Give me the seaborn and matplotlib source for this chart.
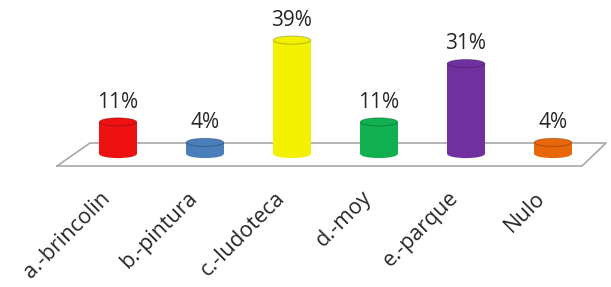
import matplotlib
matplotlib.use("Agg")
import matplotlib.pyplot as plt
import matplotlib.transforms as mtransforms
import seaborn as sns
import pandas as pd
from matplotlib.patches import Ellipse

categories = ["a.-brincolin", "b.-pintura", "c.-ludoteca", "d.-moy", "e.-parque", "Nulo"]
values = [11, 4, 39, 11, 31, 4]
labels = ["11%", "4%", "39%", "11%", "31%", "4%"]
colors = ["#ee1111", "#4a7ebb", "#f2f200", "#10b050", "#7030a0", "#e8670a"]

sns.set_theme(style="white")
plt.rcParams['font.family'] = ['Open Sans', 'DejaVu Sans']

W, H = 611, 287
fig = plt.figure(figsize=(W / 100, H / 100), dpi=100)
base_px = 154
top_px = 154 - 45 * 2.92
ax = fig.add_axes([74.5 / W, 1 - base_px / H, 522 / W, (base_px - top_px) / H])

df = pd.DataFrame({"cat": categories, "val": values})
bw = 0.43
sns.barplot(data=df, x="cat", y="val", hue="cat", palette=colors, legend=False,
            width=bw, ax=ax, saturation=1, edgecolor="none", zorder=3)
ax.set_xlim(-0.5, 5.5)
ax.set_ylim(0, 45)

# floor plane (decoration) in axes coordinates
def ax_pt(px, py):
    return ((px - 74.5) / 522, (base_px - py) / (base_px - top_px))

floor = [ax_pt(57, 166), ax_pt(90, 143), ax_pt(606, 143), ax_pt(582, 166), ax_pt(57, 166)]
ax.plot([p[0] for p in floor], [p[1] for p in floor], transform=ax.transAxes,
        color="#a8a8a8", lw=1.2, clip_on=False, zorder=1)

# cylinder caps
eh = 2.8
for i, (v, c) in enumerate(zip(values, colors)):
    ax.add_patch(Ellipse((i, 0), bw, eh, facecolor=c, edgecolor="none", zorder=3, clip_on=False))
    ax.add_patch(Ellipse((i, v), bw, eh, facecolor=c, edgecolor=(0, 0, 0, 0.22), lw=0.8, zorder=4, clip_on=False))
    ax.text(i, v + 3.2, labels[i], ha="center", va="bottom", fontsize=15, color="#262626")

ax.set_xlabel("")
ax.set_ylabel("")
ax.set_yticks([])
ax.set_xticks(range(len(categories)))
ax.set_xticklabels(categories, rotation=45, ha="right", rotation_mode="anchor",
                   fontsize=15.5, color="#262626")
ax.tick_params(axis="x", length=0, pad=24)
offset = mtransforms.ScaledTranslation(-18 / 100, 0, fig.dpi_scale_trans)
for lab in ax.get_xticklabels():
    lab.set_transform(lab.get_transform() + offset)
for s in ax.spines.values():
    s.set_visible(False)
ax.patch.set_alpha(0)

fig.savefig("out.png", dpi=100)
